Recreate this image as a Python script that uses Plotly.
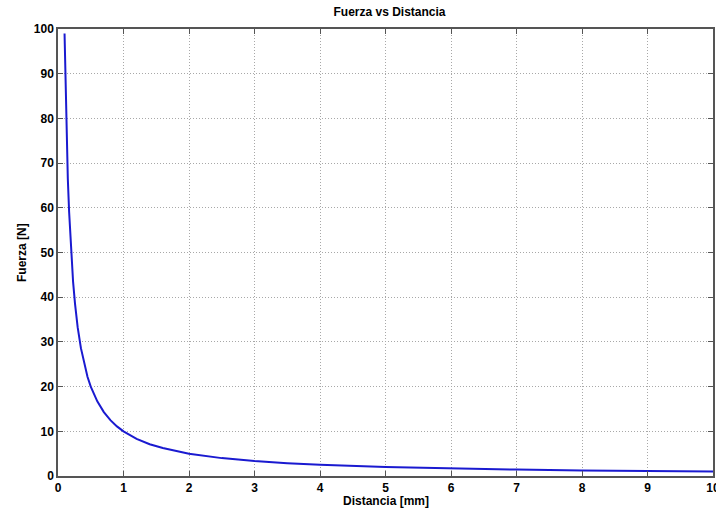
import plotly.graph_objects as go

# valores
distancia = [0.10, 0.11, 0.12, 0.13, 0.15, 0.17, 0.20, 0.23, 0.26, 0.30, 0.35, 0.40,
             0.45, 0.50, 0.60, 0.70, 0.80, 0.90, 1.00, 1.20, 1.40, 1.60, 1.80, 2.00,
             2.50, 3.00, 3.50, 4.00, 5.00, 6.00, 7.00, 8.00, 9.00, 10.00]
fuerza = [99.0, 90.5, 83.0, 77.0, 66.5, 59.0, 50.0, 43.5, 38.5, 33.3, 28.6, 25.0,
          22.2, 20.0, 16.7, 14.3, 12.5, 11.1, 10.0, 8.3, 7.1, 6.25, 5.55, 5.0,
          4.0, 3.33, 2.86, 2.5, 2.0, 1.67, 1.43, 1.25, 1.11, 1.0]

x_ticks = list(range(0, 11))
y_ticks = list(range(0, 101, 10))

font_fam = "Liberation Sans, Arial, sans-serif"
bold = dict(family=font_fam, size=12, color="black", weight="bold")

fig = go.Figure()
fig.add_trace(go.Scatter(
    x=distancia, y=fuerza, mode="lines",
    line=dict(color="#1a1ad0", width=2),
    showlegend=False,
))

axis_style = dict(
    showline=True, linecolor="#555555", linewidth=1.5, mirror="ticks",
    ticks="inside", ticklen=5, tickcolor="#555555",
    showgrid=True, gridcolor="#a8a8a8", griddash="1px,2px", gridwidth=1,
    zeroline=False, automargin=False, ticklabeloverflow="allow",
    tickfont=bold,
)

fig.update_xaxes(range=[0, 10], tickvals=x_ticks, **axis_style)
fig.update_yaxes(range=[0, 100], tickvals=y_ticks, **axis_style)

fig.update_layout(
    width=716, height=511,
    margin=dict(l=58, r=3, t=29, b=35),
    paper_bgcolor="white", plot_bgcolor="white",
    title=dict(text="Fuerza vs Distancia", x=0.544, xanchor="center", y=0.977, yanchor="middle",
               font=bold),
    annotations=[
        dict(text="Distancia [mm]", xref="paper", yref="paper", x=0.5, y=-0.036,
             xanchor="center", yanchor="top", showarrow=False, font=bold),
        dict(text="Fuerza [N]", xref="paper", yref="paper", x=-0.042, y=0.5,
             xanchor="right", yanchor="middle", textangle=-90, showarrow=False, font=bold),
    ],
)

# quitar el margen del body para que la figura llene la ventana
fig.write_html("out.html", config={"displayModeBar": False},
               post_script="document.body.style.margin='0';")
